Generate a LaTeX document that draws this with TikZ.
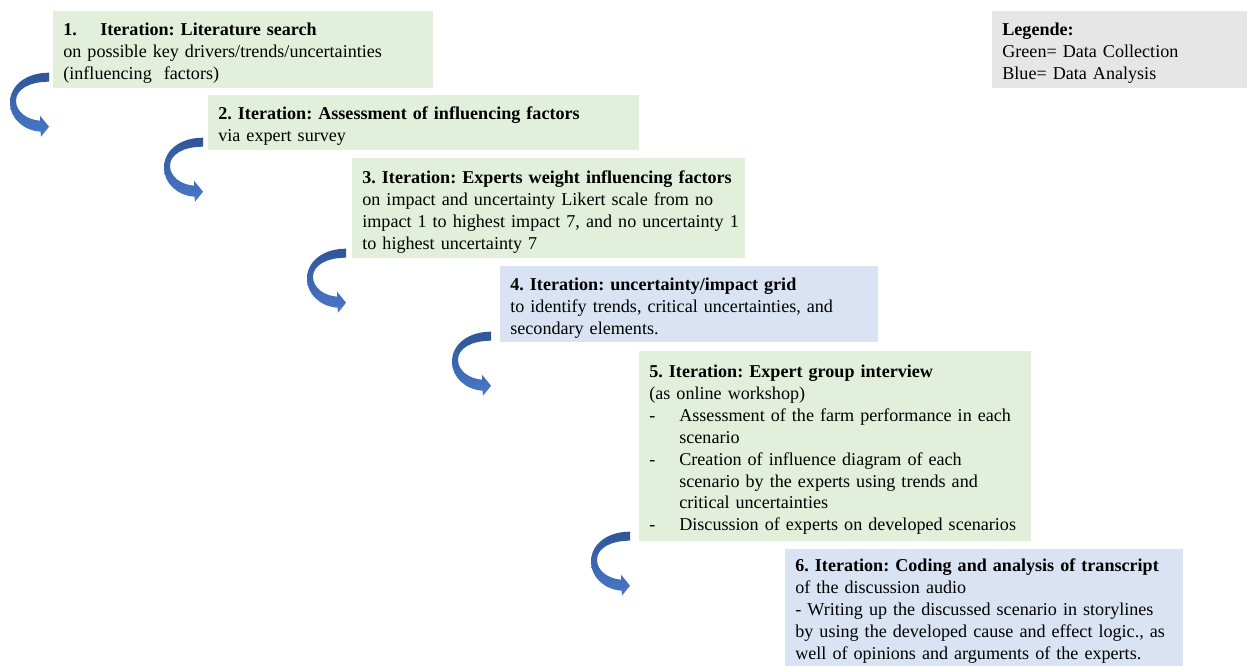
\documentclass[tikz,border=0pt]{standalone}
\usepackage{fontspec}
\setmainfont{Liberation Serif}
\definecolor{collectfill}{HTML}{E2EFDA}
\definecolor{analysisfill}{HTML}{DAE3F3}
\definecolor{legendfill}{HTML}{E7E6E6}
\definecolor{arrowdark}{HTML}{2F5597}
\definecolor{arrowlight}{HTML}{4A78C8}
\newcommand\stepfont{\fontsize{10.3pt}{12.47pt}\selectfont\frenchspacing}
% one line per row, lowered slightly so the block sits a bit below centre
\newcommand\steplines[1]{\raisebox{-0.07cm}[\height][\depth]{%
  \begin{tabular}{@{}l@{}}#1\end{tabular}}}
\begin{document}
\begin{tikzpicture}[x=0.02cm, y=-0.02cm,
  stepbox/.style={anchor=north west, inner xsep=0.2cm, inner ysep=0pt,
    align=left, font=\stepfont, text=black},
  collect/.style={stepbox, fill=collectfill},
  analysis/.style={stepbox, fill=analysisfill},
  legendbox/.style={stepbox, fill=legendfill},
  turnarrow/.pic={
    \shade[top color=arrowdark, bottom color=arrowlight]
      (0,0) .. controls (-22,0) and (-39,12) .. (-39,30)
      .. controls (-39,46) and (-25,58) .. (-8.5,59)
      -- (-8,64) -- (0,54) -- (-9,43) -- (-9,48)
      .. controls (-22,47) and (-33,39) .. (-33,28)
      .. controls (-33,17) and (-20,9) .. (0,9) -- cycle;
  }]
\useasboundingbox (0,0) rectangle (1247,666);

% iteration steps
\node[collect, text width=7.2cm, minimum height=1.54cm] (s1) at (53,11)
  {\steplines{\textbf{\makebox[0.74cm][l]{1.}Iteration: Literature search}\\
   on possible key drivers/trends/uncertainties\\
   (influencing\ \ factors)}};
\node[collect, text width=8.22cm, minimum height=1.1cm] (s2) at (208,95)
  {\steplines{\textbf{2. Iteration: Assessment of influencing factors}\\
   via expert survey}};
\node[collect, text width=7.46cm, minimum height=2.0cm] (s3) at (352,158)
  {\steplines{\textbf{3. Iteration: Experts weight influencing factors}\\
   on impact and uncertainty Likert scale from no\\
   impact 1 to highest impact 7, and no uncertainty 1\\
   to highest uncertainty 7}};
\node[analysis, text width=7.16cm, minimum height=1.52cm] (s4) at (500,266)
  {\steplines{\textbf{4. Iteration: uncertainty/impact grid}\\
   to identify trends, critical uncertainties, and\\
   secondary elements.}};
\node[collect, text width=7.44cm, minimum height=3.8cm] (s5) at (639,351)
  {\steplines{\textbf{5. Iteration: Expert group interview}\\
   (as online workshop)\\
   \makebox[0.6cm][l]{-}Assessment of the farm performance in each\\
   \hspace*{0.6cm}scenario\\
   \makebox[0.6cm][l]{-}Creation of influence diagram of each\\
   \hspace*{0.6cm}scenario by the experts using trends and\\
   \hspace*{0.6cm}critical uncertainties\\
   \makebox[0.6cm][l]{-}Discussion of experts on developed scenarios}};
\node[analysis, text width=7.56cm, minimum height=2.34cm] (s6) at (785,549)
  {\steplines{\textbf{6. Iteration: Coding and analysis of transcript}\\
   of the discussion audio\\
   - Writing up the discussed scenario in storylines\\
   by using the developed cause and effect logic., as\\
   well of opinions and arguments of the experts.}};

% legend
\node[legendbox, text width=4.7cm, minimum height=1.54cm] (legend) at (992,11)
  {\steplines{\textbf{Legende:}\\
   Green= Data Collection\\
   Blue= Data Analysis}};

% curved arrows leading from one step to the next
\pic at ([shift={(-4,-16)}]s1.south west) {turnarrow};
\pic at ([shift={(-5,-13)}]s2.south west) {turnarrow};
\pic at ([shift={(-6,-10)}]s3.south west) {turnarrow};
\pic at ([shift={(-9,-11)}]s4.south west) {turnarrow};
\pic at ([shift={(-9,-10)}]s5.south west) {turnarrow};
\end{tikzpicture}
\end{document}
